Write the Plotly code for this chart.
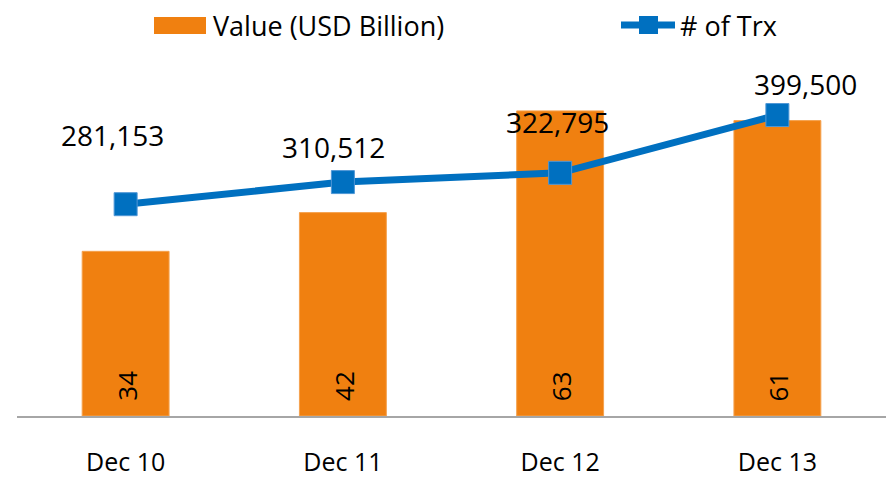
import plotly.graph_objects as go

# ---- data ----
categories = ["Dec 10", "Dec 11", "Dec 12", "Dec 13"]
value_usd_billion = [34, 42, 63, 61]
num_trx = [281153, 310512, 322795, 399500]

ORANGE = "#F08010"
BLUE = "#0070C0"
FONT = "Open Sans"

# page offset caused by the default <body> margin
OFF = 8
PAGE_W, PAGE_H = 895, 484
W, H = PAGE_W - OFF, PAGE_H - OFF
# plot area in page pixels
PL, PR, PT, PB = 17, 886, 77, 416
L, R, T, B = PL - OFF, W - (PR - OFF), PT - OFF, H - (PB - OFF)
pw, ph = PR - PL, PB - PT


def px(x):
    return (x - PL) / pw


def py(y):
    return (PB - y) / ph


fig = go.Figure()

fig.add_trace(
    go.Bar(
        x=categories,
        y=value_usd_billion,
        name="Value (USD Billion)",
        marker=dict(color=ORANGE, line=dict(color="#F5A24E", width=1)),
        hoverinfo="x+y",
        yaxis="y",
    )
)

fig.add_trace(
    go.Scatter(
        x=categories,
        y=num_trx,
        name="# of Trx",
        mode="lines+markers",
        line=dict(color=BLUE, width=7),
        marker=dict(symbol="square", size=23, color=BLUE,
                    line=dict(color="#4F97D6", width=1)),
        yaxis="y2",
    )
)

annotations = []
# bar value labels (rotated, near the base)
for c, v in zip(categories, value_usd_billion):
    annotations.append(dict(
        x=c, y=0, xref="x", yref="y", text=str(v), showarrow=False,
        textangle=-90, yshift=30, xshift=1, yanchor="middle",
        font=dict(family=FONT, size=26, color="black"),
    ))

# line value labels
label_shift = [(-13, 69), (-9, 35), (-3, 51), (28, 31)]
for (c, v), (dx, dy) in zip(zip(categories, num_trx), label_shift):
    annotations.append(dict(
        x=c, y=v, xref="x", yref="y2", text=f"{v:,}", showarrow=False,
        xshift=dx, yshift=dy, yanchor="middle",
        font=dict(family=FONT, size=28, color="black"),
    ))

# manual legend
annotations.append(dict(
    x=px(211), y=py(25), xref="paper", yref="paper", text="Value (USD Billion)",
    showarrow=False, xanchor="left", yanchor="middle",
    font=dict(family=FONT, size=27, color="black"),
))
annotations.append(dict(
    x=px(678), y=py(25), xref="paper", yref="paper", text="# of Trx",
    showarrow=False, xanchor="left", yanchor="middle",
    font=dict(family=FONT, size=27, color="black"),
))

shapes = [
    dict(type="rect", xref="paper", yref="paper",
         x0=px(154), x1=px(206), y0=py(34), y1=py(17),
         fillcolor=ORANGE, line=dict(width=0)),
    dict(type="line", xref="paper", yref="paper",
         x0=px(621), x1=px(675), y0=py(25), y1=py(25),
         line=dict(color=BLUE, width=7)),
    dict(type="rect", xref="paper", yref="paper",
         x0=px(639), x1=px(658), y0=py(34), y1=py(16),
         fillcolor=BLUE, line=dict(width=0)),
]

fig.update_layout(
    template="none",
    width=W, height=H,
    margin=dict(l=L, r=R, t=T, b=B, pad=0, autoexpand=False),
    paper_bgcolor="white", plot_bgcolor="white",
    showlegend=False,
    bargap=0.6,
    annotations=annotations,
    shapes=shapes,
    font=dict(family=FONT, color="black"),
    xaxis=dict(
        domain=[0, 1], automargin=False,
        range=[-0.5, len(categories) - 0.5],
        showline=True, linecolor="#A6A6A6", linewidth=1.5,
        showgrid=False, zeroline=False, ticks="", ticklabelstandoff=23,
        tickfont=dict(family=FONT, size=25, color="black"),
    ),
    yaxis=dict(domain=[0, 1], range=[0, 70], visible=False, showgrid=False,
               zeroline=False, automargin=False),
    yaxis2=dict(range=[0, 450000], visible=False, showgrid=False,
                zeroline=False, automargin=False,
                overlaying="y", side="right"),
)

fig.write_html("out.html")
